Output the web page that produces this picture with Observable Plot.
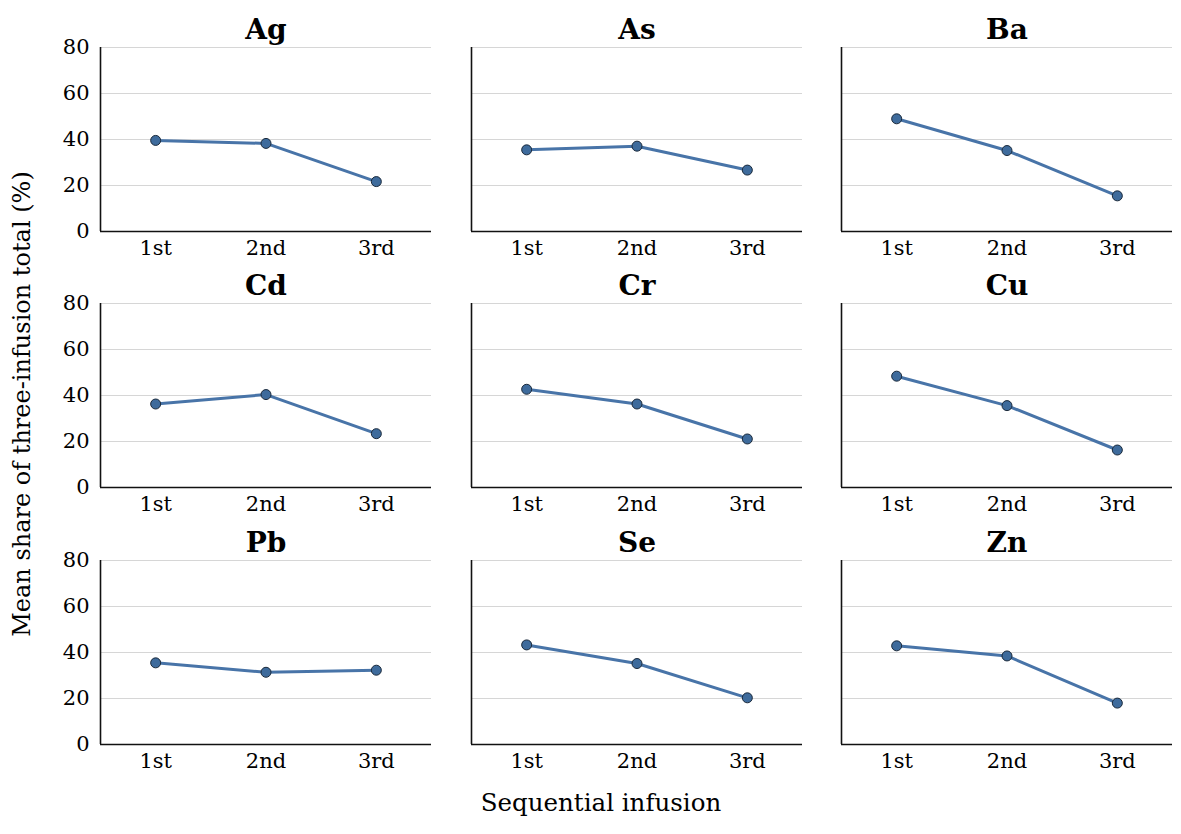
<!DOCTYPE html>
<html>
<head>
<meta charset="utf-8">
<script src="https://cdn.jsdelivr.net/npm/d3@7"></script>
<script src="https://cdn.jsdelivr.net/npm/@observablehq/plot@0.6"></script>
<style>
  body { margin: 0; background: #fff; }
  #chart { position: relative; width: 1181px; height: 834px; font-family: "DejaVu Serif", serif; color: #000; }
  .panel { position: absolute; }
  .ylab { position: absolute; width: 700px; text-align: center; font-size: 24px; line-height: 28px;
          transform: rotate(-90deg); transform-origin: 50% 50%; white-space: nowrap; }
  .xlab { position: absolute; width: 400px; text-align: center; font-size: 24.5px; line-height: 30px; white-space: nowrap; }
</style>
</head>
<body>
<div id="chart"></div>
<script>
// Mean share (%) of the three-infusion total released in each infusion, per element
const infusions = ["1st", "2nd", "3rd"];
const elements = ["Ag", "As", "Ba", "Cd", "Cr", "Cu", "Pb", "Se", "Zn"];
const Ag = [39.6, 38.3, 21.7];
const As = [35.5, 37.1, 26.7];
const Ba = [49.0, 35.2, 15.5];
const Cd = [36.3, 40.4, 23.4];
const Cr = [42.7, 36.3, 21.1];
const Cu = [48.4, 35.6, 16.3];
const Pb = [35.5, 31.4, 32.3];
const Se = [43.3, 35.2, 20.3];
const Zn = [42.9, 38.5, 18.0];
const yTicks = [0, 20, 40, 60, 80];

const seriesByElement = {Ag, As, Ba, Cd, Cr, Cu, Pb, Se, Zn};

// panel geometry
const plotW = 331, plotH = 184;
const mL = 60, mR = 8, mT = 48, mB = 40;
const colX = [100, 471, 841];
const rowY = [46.5, 303, 559.5];

const lineColor = "#4874a8";
const dotFill = "#3e6b9c";
const dotStroke = "#1b2a3b";

const chart = document.getElementById("chart");

elements.forEach((name, i) => {
  const col = i % 3, row = Math.floor(i / 3);
  const data = seriesByElement[name].map((v, k) => ({step: k + 1, value: v}));
  const svg = Plot.plot({
    width: mL + plotW + mR,
    height: mT + plotH + mB,
    marginLeft: mL, marginRight: mR, marginTop: mT, marginBottom: mB,
    style: {fontFamily: "DejaVu Serif, serif", fontSize: "21px", background: "transparent", overflow: "visible", color: "#000"},
    x: {domain: [0.5, 3.5]},
    y: {domain: [0, 80]},
    marks: [
      Plot.gridY([20, 40, 60, 80], {stroke: "#d6d6d6", strokeOpacity: 1, strokeWidth: 1.2}),
      Plot.ruleY([0], {stroke: "#111", strokeWidth: 1.6}),
      Plot.ruleX([0.5], {y1: 0, y2: 80, stroke: "#111", strokeWidth: 1.6}),
      Plot.axisX({
        ticks: [1, 2, 3], tickFormat: d => infusions[d - 1],
        tickSize: 0, tickPadding: 9, label: null, fontSize: 21
      }),
      col === 0
        ? Plot.axisY({ticks: yTicks, tickSize: 0, tickPadding: 11, label: null, fontSize: 21})
        : Plot.axisY({ticks: [], label: null}),
      Plot.line(data, {x: "step", y: "value", stroke: lineColor, strokeWidth: 3}),
      Plot.dot(data, {x: "step", y: "value", r: 5, fill: dotFill, stroke: dotStroke, strokeWidth: 1}),
      Plot.text([name], {frameAnchor: "top", lineAnchor: "bottom", dy: -9, fontSize: 28, fontWeight: "bold"})
    ]
  });
  svg.classList.add("panel");
  svg.style.left = (colX[col] - mL) + "px";
  svg.style.top = (rowY[row] - mT) + "px";
  chart.appendChild(svg);
});

// shared axis titles
const ylab = document.createElement("div");
ylab.className = "ylab";
ylab.textContent = "Mean share of three-infusion total (%)";
ylab.style.left = (22 - 350) + "px";
ylab.style.top = (404 - 14) + "px";
chart.appendChild(ylab);

const xlab = document.createElement("div");
xlab.className = "xlab";
xlab.textContent = "Sequential infusion";
xlab.style.left = (601 - 200) + "px";
xlab.style.top = "788px";
chart.appendChild(xlab);
</script>
</body>
</html>
